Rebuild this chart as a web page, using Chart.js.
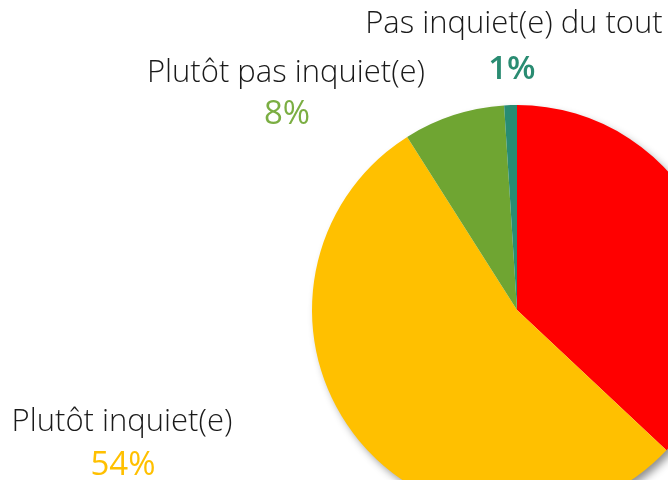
<!DOCTYPE html>
<html>
<head>
<meta charset="utf-8">
<script src="https://cdn.jsdelivr.net/npm/chart.js@4.4.0/dist/chart.umd.min.js"></script>
<style>
  html, body { margin: 0; padding: 0; background: #fff; }
  #frame { width: 668px; height: 480px; overflow: hidden; position: relative; }
  #wrap { width: 900px; height: 620px; position: absolute; left: 0; top: 0; }
</style>
</head>
<body>
<div id="frame"><div id="wrap"><canvas id="c"></canvas></div></div>
<script>
const categories = ["Très inquiet(e)", "Plutôt inquiet(e)", "Plutôt pas inquiet(e)", "Pas inquiet(e) du tout"];
const values = [37, 54, 8, 1];
const percentLabels = ["37%", "54%", "8%", "1%"];
const sliceColors = ["#FF0000", "#FFC000", "#6FA532", "#288C73"];
const percentColors = ["#FF0000", "#FFC000", "#7BAE43", "#2A8C72"];

// label placement relative to pie centre, in units of the radius
const labelPlacement = [
  { nx: 1.6, ny: 0.0, px: 1.6, py: 0.2 },
  { nx: -1.927, ny: 0.546, px: -1.922, py: 0.757 },
  { nx: -1.127, ny: -1.156, px: -1.122, py: -0.951 },
  { nx: -0.015, ny: -1.395, px: -0.025, py: -1.171 }
];

const shadowPlugin = {
  id: 'pieShadow',
  beforeDatasetsDraw(chart) {
    const arc = chart.getDatasetMeta(0).data[0];
    if (!arc) return;
    const ctx = chart.ctx;
    ctx.save();
    ctx.shadowColor = 'rgba(0,0,0,0.45)';
    ctx.shadowBlur = 9;
    ctx.shadowOffsetX = 4;
    ctx.shadowOffsetY = 5;
    ctx.fillStyle = '#ffffff';
    ctx.beginPath();
    ctx.arc(arc.x, arc.y, arc.outerRadius - 1, 0, Math.PI * 2);
    ctx.fill();
    ctx.restore();
  }
};

const labelPlugin = {
  id: 'calloutLabels',
  afterDatasetsDraw(chart) {
    const meta = chart.getDatasetMeta(0);
    const ctx = chart.ctx;
    meta.data.forEach((arc, i) => {
      const p = labelPlacement[i];
      const r = arc.outerRadius;
      ctx.save();
      ctx.textAlign = 'center';
      ctx.textBaseline = 'middle';
      ctx.fillStyle = '#1a1a1a';
      ctx.font = '300 31px "Open Sans"';
      ctx.fillText(categories[i], arc.x + p.nx * r, arc.y + p.ny * r);
      ctx.fillStyle = percentColors[i];
      ctx.font = (i === 3 ? '600 ' : '400 ') + '33px "Open Sans"';
      ctx.fillText(percentLabels[i], arc.x + p.px * r, arc.y + p.py * r);
      ctx.restore();
    });
  }
};

new Chart(document.getElementById('c'), {
  type: 'pie',
  data: {
    labels: categories,
    datasets: [{
      data: values,
      backgroundColor: sliceColors,
      borderWidth: 0,
      hoverOffset: 0
    }]
  },
  options: {
    responsive: true,
    maintainAspectRatio: false,
    animation: false,
    events: [],
    layout: { padding: { left: 312, top: 105, right: 178, bottom: 105 } },
    plugins: { legend: { display: false }, tooltip: { enabled: false } }
  },
  plugins: [shadowPlugin, labelPlugin]
});
</script>
</body>
</html>
